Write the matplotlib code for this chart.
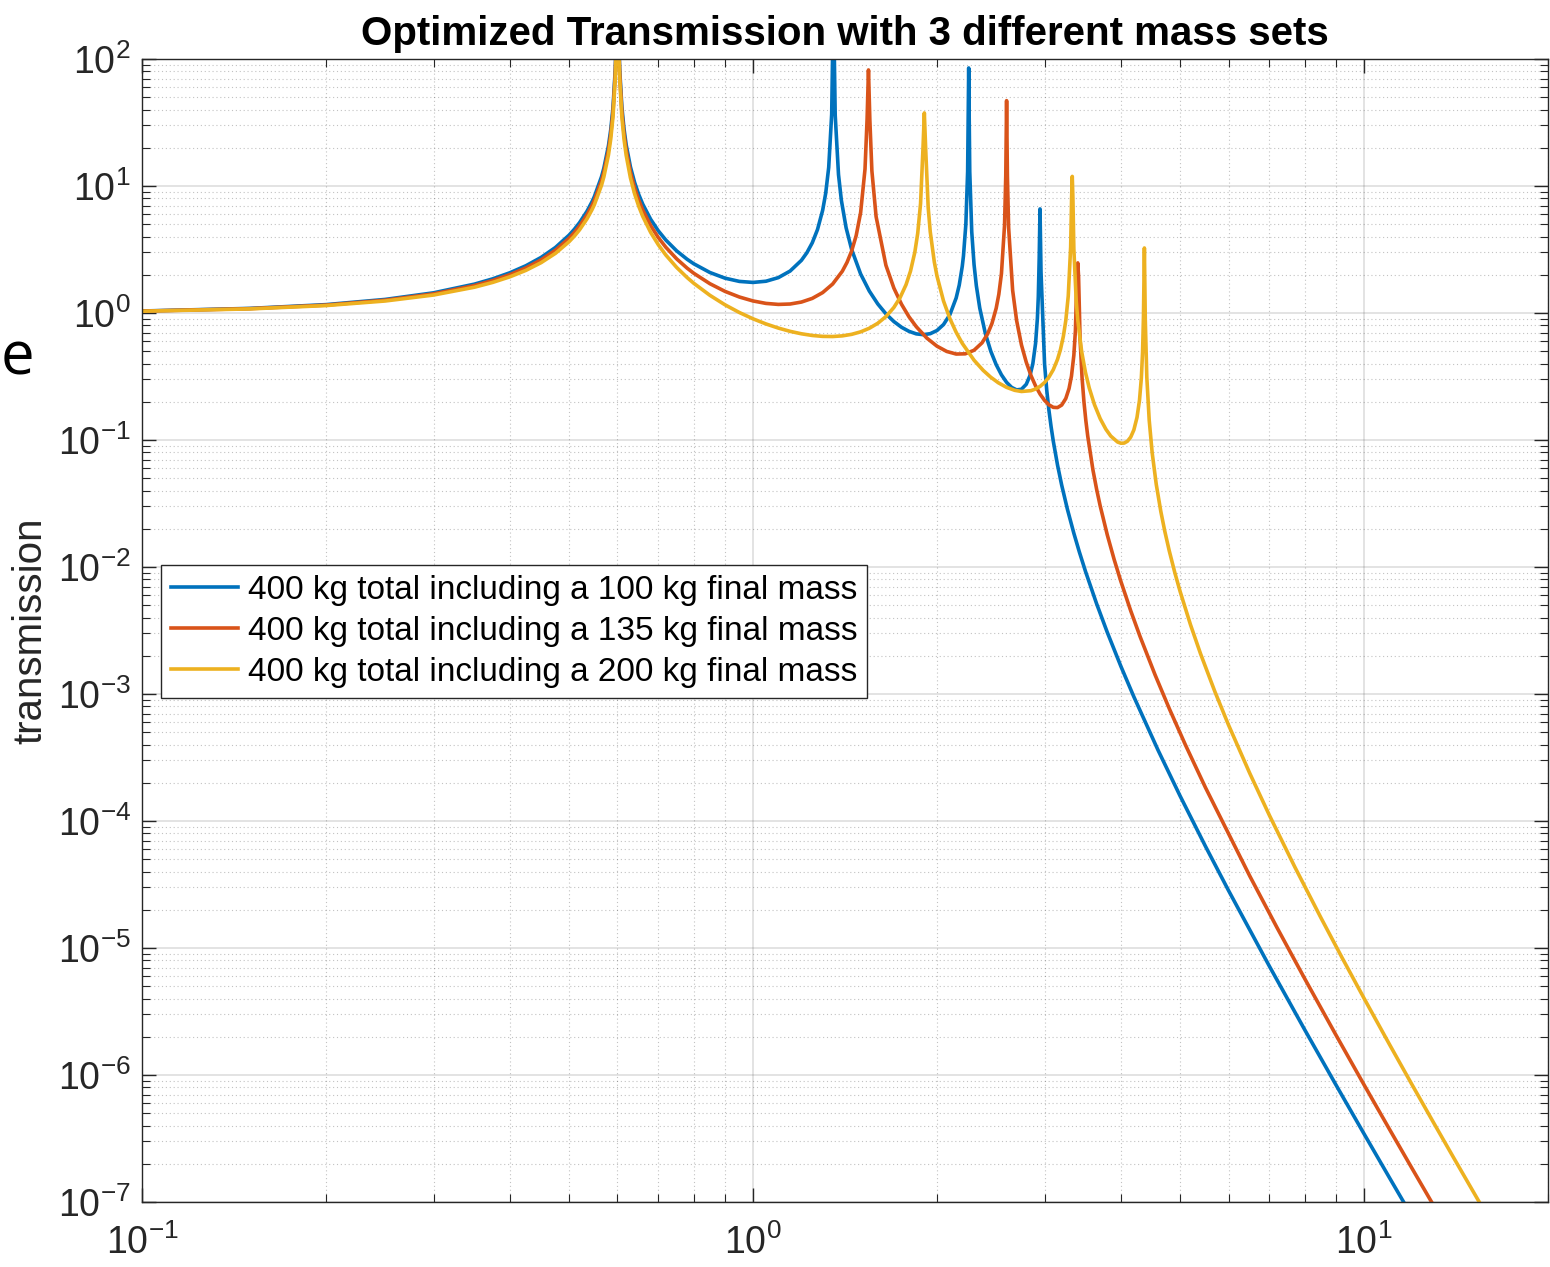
import matplotlib
matplotlib.use("Agg")
import matplotlib.pyplot as plt
from matplotlib.ticker import LogLocator, NullFormatter, LogFormatterMathtext

plt.rcParams['font.family'] = ['Liberation Sans', 'DejaVu Sans']
plt.rcParams['mathtext.fontset'] = 'custom'
plt.rcParams['mathtext.rm'] = 'Liberation Sans'
plt.rcParams['mathtext.it'] = 'Liberation Sans:italic'
plt.rcParams['mathtext.bf'] = 'Liberation Sans:bold'

# ---------------- data ----------------
title = "Optimized Transmission with 3 different mass sets"
ylabel = "transmission"
series_labels = [
    "400 kg total including a 100 kg final mass",
    "400 kg total including a 135 kg final mass",
    "400 kg total including a 200 kg final mass",
]
colors = ["#0072BD", "#D95319", "#EDB120"]

freq_100 = [0.1, 0.15, 0.2, 0.25, 0.3, 0.35, 0.375, 0.4, 0.425, 0.45,
            0.475, 0.5, 0.51, 0.52, 0.535, 0.545, 0.55, 0.565, 0.57, 0.58,
            0.585, 0.59, 0.595, 0.597, 0.6,
            0.603, 0.605, 0.61, 0.615, 0.62, 0.63, 0.64, 0.65, 0.66, 0.68,
            0.7, 0.72, 0.75, 0.78, 0.8, 0.85, 0.9, 0.95, 1.0, 1.05,
            1.1, 1.15, 1.2, 1.225, 1.25, 1.275, 1.3, 1.315, 1.33, 1.345,
            1.354, 1.363, 1.38, 1.395, 1.42, 1.45, 1.5, 1.55, 1.6, 1.65,
            1.7, 1.75, 1.8, 1.85, 1.9, 1.95, 2.0, 2.05, 2.1, 2.15,
            2.175, 2.2, 2.21, 2.23, 2.245, 2.254, 2.263, 2.28, 2.3, 2.32,
            2.35, 2.4, 2.45, 2.5, 2.55, 2.6, 2.65, 2.7, 2.75, 2.8,
            2.84, 2.87, 2.9, 2.92, 2.93, 2.94, 2.949, 2.96, 3.0, 3.025,
            3.05, 3.075, 3.1, 3.15, 3.2, 3.27, 3.35, 3.42, 3.5, 3.65,
            3.8, 4.0, 4.2, 4.6, 5.0, 5.5, 6.0, 7.0, 8.0, 9.0,
            10.0, 11.0, 12.0]
trans_100 = [1.037, 1.087, 1.164, 1.279, 1.442, 1.688, 1.858, 2.074, 2.357, 2.740,
             3.282, 4.104, 4.562, 5.138, 6.337, 7.502, 8.26, 11.84, 13.83, 20.8,
             27.79, 41.6, 83.2, 139, 300,
             139, 83.6, 42.1, 28.11, 21.13, 14.15, 10.67, 8.581, 7.19, 5.463,
             4.43, 3.752, 3.083, 2.650, 2.440, 2.084, 1.880, 1.773, 1.741, 1.779,
             1.899, 2.140, 2.598, 2.983, 3.568, 4.541, 6.440, 8.764, 14.01, 36.77,
             300, 36.10, 12.31, 7.706, 4.697, 3.165, 2.029, 1.488, 1.179, 0.985,
             0.857, 0.772, 0.717, 0.685, 0.675, 0.6875, 0.728, 0.811, 0.972, 1.313,
             1.657, 2.329, 2.815, 5.003, 12.98, 85, 12.96, 4.36, 2.403, 1.638,
             1.093, 0.690, 0.499, 0.392, 0.326, 0.2844, 0.2595, 0.2481, 0.2510, 0.2745,
             0.3223, 0.398, 0.5766, 0.908, 1.337, 2.717, 6.6, 2.107, 0.397, 0.2456,
             0.1708, 0.1268, 0.0981, 0.06355, 0.0441, 0.02844, 0.01844, 0.013145, 0.009245, 0.005137,
             0.003057, 0.0016507, 0.000951, 3.62e-4, 1.573e-4, 6.33e-5, 2.837e-5, 7.18e-6, 2.262e-6, 8.32e-7,
             3.44e-7, 1.558e-7, 7.6e-8]

freq_135 = [0.1, 0.15, 0.2, 0.25, 0.3, 0.35, 0.375, 0.4, 0.425, 0.45,
            0.475, 0.5, 0.51, 0.52, 0.535, 0.545, 0.55, 0.565, 0.57, 0.58,
            0.585, 0.59, 0.595, 0.597, 0.6,
            0.603, 0.605, 0.61, 0.615, 0.62, 0.63, 0.64, 0.65, 0.66, 0.68,
            0.7, 0.72, 0.75, 0.78, 0.8, 0.85, 0.9, 0.95, 1.0, 1.05,
            1.1, 1.15, 1.2, 1.25, 1.3, 1.35, 1.4, 1.425, 1.45, 1.475,
            1.5, 1.525, 1.537, 1.545, 1.553, 1.565, 1.59, 1.65, 1.7, 1.75,
            1.8, 1.85, 1.925, 2.0, 2.075, 2.15, 2.225, 2.3, 2.37, 2.42,
            2.46, 2.5, 2.525, 2.55, 2.58, 2.592, 2.6, 2.608, 2.62, 2.66,
            2.7, 2.75, 2.8, 2.85, 2.9, 2.95, 3.0, 3.05, 3.1, 3.15,
            3.2, 3.25, 3.29, 3.32, 3.35, 3.37, 3.39, 3.4, 3.41, 3.43,
            3.455, 3.48, 3.505, 3.53, 3.6, 3.65, 3.7, 3.8, 3.9, 4.0,
            4.15, 4.3, 4.55, 4.8, 5.1, 5.5, 6.5, 7.2, 8.0, 9.0,
            10.0, 11.0, 12.0, 13.5]
trans_135 = [1.035, 1.082, 1.154, 1.262, 1.415, 1.645, 1.803, 2.004, 2.266, 2.621,
             3.122, 3.880, 4.303, 4.833, 5.937, 7.009, 7.71, 11.0, 12.83, 19.2,
             25.66, 38.4, 76.6, 128, 300,
             128, 77.0, 38.5, 25.70, 19.29, 12.87, 9.669, 7.749, 6.47, 4.875,
             3.92, 3.292, 2.667, 2.256, 2.054, 1.701, 1.479, 1.336, 1.244, 1.190,
             1.1685, 1.177, 1.2195, 1.303, 1.448, 1.692, 2.133, 2.503, 3.075, 4.067,
             6.176, 13.59, 33.63, 82, 33.20, 13.16, 5.744, 2.375, 1.573, 1.171,
             0.933, 0.780, 0.6345, 0.548, 0.498, 0.4752, 0.4771, 0.509, 0.582, 0.683,
             0.825, 1.090, 1.404, 2.040, 4.916, 12.13, 47, 11.91, 4.704, 1.507,
             0.873, 0.560, 0.410, 0.322, 0.2665, 0.2296, 0.2050, 0.1892, 0.1808, 0.1800,
             0.1884, 0.2123, 0.2543, 0.3183, 0.4647, 0.729, 2.063, 2.48, 1.945, 0.612,
             0.3112, 0.1996, 0.1420, 0.1073, 0.05807, 0.04096, 0.03019, 0.01789, 0.01143, 0.00769,
             0.004531, 0.00283, 0.001414, 7.67e-4, 3.98e-4, 1.837e-4, 3.69e-5, 1.453e-5, 5.71e-6, 2.055e-6,
             8.37e-7, 3.754e-7, 1.816e-7, 6.85e-8]

freq_200 = [0.1, 0.15, 0.2, 0.25, 0.3, 0.35, 0.375, 0.4, 0.425, 0.45,
            0.475, 0.5, 0.51, 0.52, 0.535, 0.545, 0.55, 0.565, 0.57, 0.58,
            0.585, 0.59, 0.595, 0.597, 0.6,
            0.603, 0.605, 0.61, 0.615, 0.62, 0.63, 0.64, 0.65, 0.66, 0.68,
            0.7, 0.72, 0.75, 0.78, 0.8, 0.85, 0.9, 0.95, 1.0, 1.05,
            1.1, 1.15, 1.2, 1.25, 1.3, 1.35, 1.4, 1.45, 1.5, 1.55,
            1.6, 1.65, 1.7, 1.74, 1.78, 1.81, 1.84, 1.86, 1.88, 1.897,
            1.907, 1.917, 1.935, 1.95, 1.98, 2.0, 2.05, 2.1, 2.15, 2.2,
            2.3, 2.38, 2.45, 2.52, 2.6, 2.68, 2.75, 2.85, 2.9, 2.95,
            3.0, 3.05, 3.1, 3.15, 3.185, 3.22, 3.25, 3.28, 3.31, 3.322,
            3.33, 3.338, 3.35, 3.38, 3.4, 3.45, 3.5, 3.55, 3.62, 3.7,
            3.78, 3.85, 3.95, 4.0, 4.05, 4.1, 4.15, 4.2, 4.25, 4.29,
            4.32, 4.34, 4.355, 4.37, 4.385, 4.41, 4.45, 4.5, 4.57, 4.65,
            4.72, 4.8, 4.9, 5.0, 5.2, 5.4, 5.7, 6.0, 6.5, 7.0,
            7.7, 8.5, 9.2, 10.0, 11.0, 12.0, 13.0, 14.0, 15.0, 16.0]
trans_200 = [1.033, 1.077, 1.144, 1.243, 1.385, 1.596, 1.742, 1.927, 2.167, 2.492,
             2.951, 3.643, 4.029, 4.513, 5.520, 6.498, 7.13, 10.14, 11.80, 17.6,
             23.49, 35.1, 70.1, 117, 300,
             116, 69.9, 35.0, 23.29, 17.44, 11.60, 8.679, 6.928, 5.76, 4.307,
             3.44, 2.858, 2.283, 1.902, 1.713, 1.378, 1.159, 1.0085, 0.900, 0.820,
             0.761, 0.717, 0.686, 0.6654, 0.6545, 0.6528, 0.6606, 0.6791, 0.7105, 0.7584,
             0.830, 0.9371, 1.105, 1.318, 1.671, 2.134, 3.016, 4.236, 7.264, 19.39,
             37.6, 19.13, 6.753, 4.357, 2.522, 1.959, 1.243, 0.902, 0.705, 0.577,
             0.4248, 0.3537, 0.3118, 0.2823, 0.2597, 0.2462, 0.2410, 0.2446, 0.2520, 0.2645,
             0.2837, 0.3128, 0.3576, 0.431, 0.5149, 0.6543, 0.8734, 1.358, 3.305, 8.18,
             11.9, 8.07, 3.198, 1.2497, 0.8799, 0.4964, 0.3405, 0.2569, 0.1902, 0.1471,
             0.1215, 0.1074, 0.0964, 0.0943, 0.0946, 0.0978, 0.1053, 0.1200, 0.1505, 0.2053,
             0.3064, 0.4878, 0.9425, 3.25, 0.882, 0.3129, 0.1435, 0.0794, 0.04471, 0.02725,
             0.01906, 0.01337, 0.009064, 0.006414, 0.003504, 0.002074, 0.001043, 5.708e-4, 2.376e-4, 1.108e-4,
             4.363e-5, 1.729e-5, 8.424e-6, 4.014e-6, 1.748e-6, 8.28e-7, 4.20e-7, 2.252e-7, 1.266e-7, 7.41e-8]

x_ticks = [0.1, 1, 10]
y_ticks = [1e-7, 1e-6, 1e-5, 1e-4, 1e-3, 1e-2, 1e-1, 1e0, 1e1, 1e2]
x_limits = (0.1, 20)
y_limits = (1e-7, 1e2)

# ---------------- figure ----------------
W, H = 1550, 1267
fig = plt.figure(figsize=(W / 100, H / 100), dpi=100)
ax = fig.add_axes([142 / W, 1 - 1202 / H, 1406 / W, 1143 / H])

series = [(freq_100, trans_100), (freq_135, trans_135), (freq_200, trans_200)]
for (f, t), c, lab in zip(series, colors, series_labels):
    ax.plot(f, t, color=c, lw=2.6, label=lab, solid_joinstyle='round')

ax.set_xscale('log')
ax.set_yscale('log')
ax.set_xlim(*x_limits)
ax.set_ylim(*y_limits)
ax.set_xticks(x_ticks)
ax.set_yticks(y_ticks)
ax.xaxis.set_major_formatter(LogFormatterMathtext())
ax.yaxis.set_major_formatter(LogFormatterMathtext())
ax.xaxis.set_minor_locator(LogLocator(base=10, subs=range(2, 10), numticks=50))
ax.yaxis.set_minor_locator(LogLocator(base=10, subs=range(2, 10), numticks=50))
ax.xaxis.set_minor_formatter(NullFormatter())
ax.yaxis.set_minor_formatter(NullFormatter())

axcol = '#262626'
for s in ax.spines.values():
    s.set_color(axcol)
    s.set_linewidth(1.0)
ax.tick_params(which='both', direction='in', top=True, right=True, colors=axcol,
               labelcolor=axcol, labelsize=27)
ax.tick_params(which='major', length=10, width=1.0)
ax.tick_params(which='minor', length=6, width=0.8)
ax.tick_params(axis='x', which='major', pad=16)
ax.tick_params(axis='y', which='major', pad=8)

ax.set_axisbelow(True)
ax.grid(True, which='major', color=axcol, alpha=0.15, lw=1.2, ls='-')
ax.grid(True, which='minor', color=axcol, alpha=0.28, lw=0.8, ls=(0, (1, 2.5)))

ax.set_title(title, fontsize=29, fontweight='bold', color='black', pad=10)
ax.set_ylabel(ylabel, fontsize=29, color=axcol, labelpad=6)

leg = ax.legend(loc='upper left', bbox_to_anchor=(19 / 1406, (1202 - 565) / 1143),
                borderaxespad=0, fontsize=24, frameon=True, fancybox=False,
                edgecolor=axcol, framealpha=1, handlelength=2.0, handletextpad=0.3,
                labelspacing=0.3, borderpad=0.3)
leg.get_frame().set_linewidth(1.0)
for txt in leg.get_texts():
    txt.set_color('black')

fig.text(1 / W, 1 - 375 / H, "e", fontsize=43, family=['Open Sans', 'DejaVu Sans'],
         ha='left', va='baseline', color='black')

fig.savefig("out.png", dpi=100)
